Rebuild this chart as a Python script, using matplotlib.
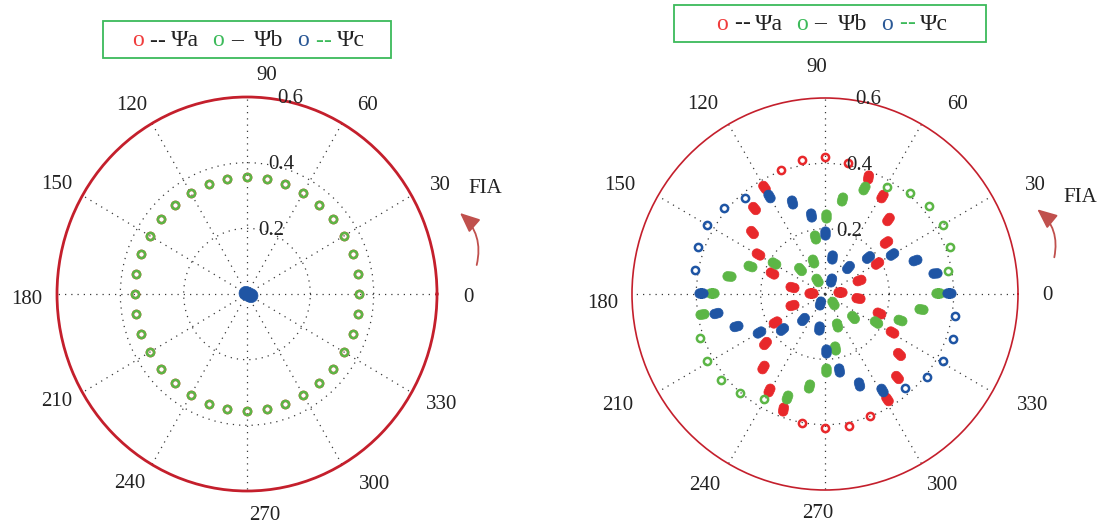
import numpy as np
import matplotlib
matplotlib.use('Agg')
import matplotlib.pyplot as plt
from matplotlib.markers import MarkerStyle
from matplotlib.path import Path
from matplotlib.transforms import Affine2D
from matplotlib.patches import FancyArrowPatch, Rectangle

plt.rcParams['font.family'] = ['Liberation Serif', 'DejaVu Serif']

RED = '#e8282b'
GREEN = '#5cb646'
BLUE = '#1f55a4'
RING = '#c41f2c'
GRID = '#3a3a3a'

# ---- left plot: sampled flux points (angle in deg, magnitude) ----
left_ang = [0, 10, 20, 30, 40, 50, 60, 70, 80, 90, 100, 110,
            120, 130, 140, 150, 160, 170, 180, 190, 200, 210, 220, 230,
            240, 250, 260, 270, 280, 290, 300, 310, 320, 330, 340, 350]
left_a_r = [0.355, 0.355, 0.355, 0.355, 0.355, 0.355, 0.355, 0.355, 0.355, 0.355, 0.355, 0.355,
            0.355, 0.355, 0.355, 0.355, 0.355, 0.355, 0.355, 0.355, 0.355, 0.355, 0.355, 0.355,
            0.355, 0.355, 0.355, 0.355, 0.355, 0.355, 0.355, 0.355, 0.355, 0.355, 0.355, 0.355]
left_b_r = [0.355, 0.355, 0.355, 0.355, 0.355, 0.355, 0.355, 0.355, 0.355, 0.355, 0.355, 0.355,
            0.355, 0.355, 0.355, 0.355, 0.355, 0.355, 0.355, 0.355, 0.355, 0.355, 0.355, 0.355,
            0.355, 0.355, 0.355, 0.355, 0.355, 0.355, 0.355, 0.355, 0.355, 0.355, 0.355, 0.355]
left_c_x = [0.004]
left_c_y = [-0.001]
left_c_dir = [-25]

# ---- right plot: components (x, y) of each sample ----
# psi a
a_open_x = [0.0, -0.072, -0.138, 0.073, -0.070, 0.0, 0.075, 0.141]
a_open_y = [0.418, 0.410, 0.381, 0.402, -0.394, -0.411, -0.404, -0.373]
a_fill_x = [-0.191, -0.222, -0.228, -0.207, -0.165, -0.104, -0.044, 0.047, 0.104, 0.167,
            0.208, 0.229, 0.224, 0.193, 0.135, 0.177, 0.196, 0.190, 0.162, 0.107,
            -0.104, -0.156, -0.188, -0.193, -0.174, -0.132]
a_fill_y = [0.328, 0.262, 0.191, 0.121, 0.063, 0.022, 0.002, 0.007, -0.013, -0.057,
            -0.115, -0.183, -0.255, -0.322, 0.359, 0.300, 0.231, 0.160, 0.094, 0.043,
            -0.034, -0.087, -0.151, -0.224, -0.294, -0.353]
a_fill_dir = [-55, -50, -50, -30, -30, -15, 0, 0, -10, -25,
              -30, -45, -50, -56, 80, 60, 55, 35, 35, 20,
              15, 30, 50, 60, 65, 80]

# psi b
b_open_x = [0.193, 0.263, 0.323, 0.368, 0.388, 0.383, -0.388, -0.367, -0.323, -0.263, -0.191]
b_open_y = [0.328, 0.310, 0.269, 0.211, 0.143, 0.070, -0.135, -0.204, -0.263, -0.304, -0.322]
b_fill_x = [0.002, -0.031, -0.037, -0.026, -0.078, -0.159, -0.232, -0.299, -0.351, -0.382,
            -0.118, -0.050, 0.002, 0.031, 0.038, 0.026, 0.088, 0.159, 0.234, 0.299,
            0.351, 0.120, 0.052]
b_fill_y = [0.239, 0.173, 0.102, 0.043, 0.076, 0.094, 0.086, 0.055, 0.002, -0.061,
            -0.316, -0.283, -0.232, -0.166, -0.095, -0.028, -0.069, -0.087, -0.080, -0.047,
            0.002, 0.323, 0.290]
b_fill_dir = [90, -75, -70, -60, -50, -30, -20, -5, 0, 10,
              70, 75, 90, -80, -75, -60, -50, -35, -20, -10,
              0, 62, 75]

# psi c
c_open_x = [-0.248, -0.315, -0.366, -0.396, -0.403, 0.250, 0.316, 0.368, 0.399, 0.404]
c_open_y = [0.294, 0.262, 0.211, 0.145, 0.073, -0.287, -0.255, -0.204, -0.139, -0.066]
c_fill_x = [-0.175, -0.104, -0.042, 0.000, 0.021, 0.019, 0.070, 0.135, 0.208, 0.281,
            0.342, 0.385, -0.385, -0.338, -0.278, -0.206, -0.133, -0.068, -0.016, -0.018,
            0.002, 0.044, 0.106, 0.177]
c_fill_y = [0.300, 0.282, 0.242, 0.186, 0.114, 0.043, 0.083, 0.114, 0.122, 0.104,
            0.063, 0.002, 0.002, -0.057, -0.098, -0.115, -0.108, -0.077, -0.028, -0.105,
            -0.176, -0.232, -0.275, -0.294]
c_fill_dir = [-60, -75, -80, 90, 85, 75, 50, 40, 35, 20,
              5, 0, 0, 15, 15, 30, 40, 50, 75, 85,
              90, -80, -75, -60]

theta_labels = ['90', '60', '30', '0', '330', '300', '270', '240', '210', '180', '150', '120']
r_labels = ['0.2', '0.4', '0.6']

# capsule outline used for the short streaks of overlapping samples
_a = np.deg2rad(np.linspace(-90, 90, 19))
_cap = np.vstack([np.column_stack([0.4 + np.cos(_a), np.sin(_a)]),
                  np.column_stack([-0.4 - np.cos(_a), -np.sin(_a)])])
CAPSULE = Path(np.vstack([_cap, _cap[:1]]), closed=True)


def blob(angle):
    return MarkerStyle(CAPSULE, transform=Affine2D().rotate_deg(angle))


def setup(ax, ring_lw, lbl_off):
    ax.set_ylim(0, 0.6)
    ax.set_thetagrids(range(0, 360, 30), labels=[])
    ax.set_rgrids([0.2, 0.4], labels=[])
    ax.grid(True, color=GRID, lw=0.9, ls=(0, (1, 4)))
    ax.spines['polar'].set_color(RING)
    ax.spines['polar'].set_linewidth(ring_lw)
    ax.tick_params(length=0)
    ax.set_aspect('auto')
    for lab, (dx, dy) in zip(theta_labels, lbl_off):
        ax.annotate(lab, xy=(0.5, 0.5), xycoords='axes fraction',
                    xytext=(dx * 0.72, dy * 0.72), textcoords='offset points',
                    ha='center', va='center', fontsize=15, color='#222222')
    for lab, (dx, dy) in zip(r_labels, [(24, 63), (34, 129), (43, 195)]):
        ax.annotate(lab, xy=(0.5, 0.5), xycoords='axes fraction',
                    xytext=(dx * 0.72, dy * 0.72), textcoords='offset points',
                    ha='center', va='center', fontsize=15, color='#222222')


def open_pts(ax, th, r, col):
    ax.plot(th, r, ls='none', marker='o', ms=5.2, mfc='none', mec=col, mew=1.8)


def fill_pts(ax, x, y, dirs, col, ms=9.6):
    for xi, yi, d in zip(x, y, dirs):
        ax.plot(np.arctan2(yi, xi), np.hypot(xi, yi), ls='none', marker=blob(d),
                ms=ms, mfc=col, mec=col, mew=0.5)


W, H = 1099, 527
fig = plt.figure(figsize=(W / 100, H / 100), dpi=100)

ax1 = fig.add_axes([57 / W, 1 - 491 / H, 380 / W, 394 / H], projection='polar')
ax2 = fig.add_axes([632 / W, 1 - 490 / H, 386 / W, 392 / H], projection='polar')

left_off = [(20, 218), (120, 189), (193, 108), (221, -4), (195, -111), (128, -191),
            (18, -221), (-117, -190), (-190, -108), (-220, -6), (-190, 109), (-115, 188)]
right_off = [(-8, 226), (133, 190), (210, 109), (222, -2), (208, -111), (118, -191),
             (-7, -219), (-120, -191), (-207, -111), (-222, -9), (-205, 109), (-122, 190)]
setup(ax1, 2.0, left_off)
setup(ax2, 1.2, right_off)

# left
open_pts(ax1, np.deg2rad(left_ang), left_a_r, RED)
open_pts(ax1, np.deg2rad(left_ang), left_b_r, GREEN)
fill_pts(ax1, left_c_x, left_c_y, left_c_dir, BLUE, ms=14)

# right
open_pts(ax2, np.arctan2(a_open_y, a_open_x), np.hypot(a_open_x, a_open_y), RED)
fill_pts(ax2, a_fill_x, a_fill_y, a_fill_dir, RED)
open_pts(ax2, np.arctan2(b_open_y, b_open_x), np.hypot(b_open_x, b_open_y), GREEN)
fill_pts(ax2, b_fill_x, b_fill_y, b_fill_dir, GREEN)
open_pts(ax2, np.arctan2(c_open_y, c_open_x), np.hypot(c_open_x, c_open_y), BLUE)
fill_pts(ax2, c_fill_x, c_fill_y, c_fill_dir, BLUE)

# legends drawn as text boxes
T_RED, T_GREEN, T_BLUE, T_BLACK = '#f03c3c', '#3cba5a', '#2a5896', '#222222'


def legend_box(x0, y0, x1, y1, base, pieces):
    fig.patches.append(Rectangle((x0 / W, 1 - y1 / H), (x1 - x0) / W, (y1 - y0) / H,
                                 transform=fig.transFigure, fill=False,
                                 ec='#3cba5a', lw=1.3))
    for txt, col, xc in pieces:
        fig.text(xc / W, 1 - base / H, txt, color=col, ha='center', va='baseline',
                 fontsize=17)


legend_box(103, 21, 391, 58, 46.5,
           [('o', T_RED, 138), ('-', T_BLACK, 153), ('-', T_BLACK, 161),
            ('Ψa', T_BLACK, 185), ('o', T_GREEN, 218), ('–', T_BLACK, 237),
            ('Ψb', T_BLACK, 268.5), ('o', T_BLUE, 303), ('-', T_GREEN, 319),
            ('-', T_GREEN, 327), ('Ψc', T_BLACK, 351)])
legend_box(674, 5, 986, 42, 29.5,
           [('o', T_RED, 722), ('-', T_BLACK, 738), ('-', T_BLACK, 746),
            ('Ψa', T_BLACK, 769), ('o', T_GREEN, 802), ('–', T_BLACK, 820),
            ('Ψb', T_BLACK, 853), ('o', T_BLUE, 887), ('-', T_GREEN, 903),
            ('-', T_GREEN, 911), ('Ψc', T_BLACK, 934)])

# rotation direction arrows
for (tx, ty), (hx, hy), (fx, fy) in [((476.7, 265), (460, 213), (485, 188.5)),
                                      ((1054.3, 257.3), (1037.3, 209.3), (1080.5, 197.5))]:
    fig.patches.append(FancyArrowPatch((tx / W, 1 - ty / H), (hx / W, 1 - hy / H),
                                       transform=fig.transFigure,
                                       connectionstyle='arc3,rad=0.3',
                                       arrowstyle='-|>,head_length=0.8,head_width=0.35',
                                       mutation_scale=15, color='#c0504d', lw=1.3,
                                       shrinkA=0, shrinkB=0))
    fig.text(fx / W, 1 - fy / H, 'FIA', ha='center', va='center', fontsize=15,
             color='#222222')

fig.savefig('out.png', dpi=100)
